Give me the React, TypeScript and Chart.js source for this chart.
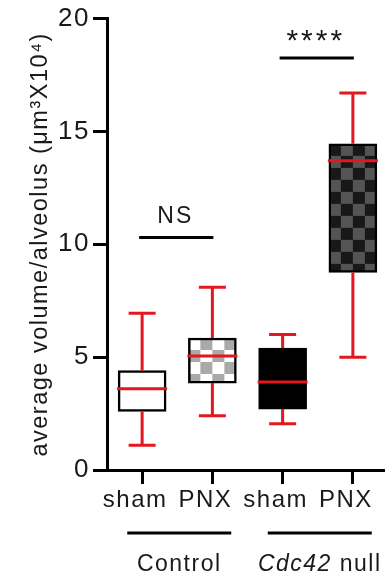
import React, { useEffect, useRef } from "react";
import { Chart, registerables } from "chart.js";

Chart.register(...registerables);

// ---- data ----
const categories = ["sham", "PNX", "sham", "PNX"];
const groupLabels = ["Control", "Cdc42 null"];
const groupMembers = [[0, 1], [2, 3]];
const whiskerMin = [1.1, 2.4, 2.05, 5.0];
const lowerQuartile = [2.6, 3.85, 2.7, 8.75];
const medians = [3.6, 5.05, 3.9, 13.7];
const upperQuartile = [4.4, 5.85, 5.4, 14.45];
const whiskerMax = [6.95, 8.1, 6.0, 16.7];
const yTickValues = [0, 5, 10, 15, 20];
const sigPairs = [[0, 1], [2, 3]];
const sigLabels = ["NS", "****"];
const sigLevels = [10.3, 18.25];
const yTitle = "average volume/alveolus (μm³X10⁴)";

const FONT = "'Liberation Sans', Arial, Helvetica, sans-serif";
const RED = "#e3171d";
const TEXT = "#1a1a1a";

function makeChecker(c1: string, c2: string, size: number): CanvasPattern | string {
  const off = document.createElement("canvas");
  off.width = size * 2;
  off.height = size * 2;
  const g = off.getContext("2d");
  if (!g) return c1;
  g.fillStyle = c1;
  g.fillRect(0, 0, size * 2, size * 2);
  g.fillStyle = c2;
  g.fillRect(0, 0, size, size);
  g.fillRect(size, size, size, size);
  const p = g.createPattern(off, "repeat");
  return p || c1;
}

function setSpacing(ctx: any, v: string) {
  if (ctx && "letterSpacing" in ctx) ctx.letterSpacing = v;
}

export default function App() {
  const ref = useRef<HTMLCanvasElement | null>(null);

  useEffect(() => {
    const canvas = ref.current;
    if (!canvas) return;
    const checkerLight = makeChecker("#a9a9a9", "#ffffff", 12);
    const checkerDark = makeChecker("#545454", "#181818", 12);
    const fills: any[] = ["#ffffff", checkerLight, "#000000", checkerDark];

    const boxPlugin = {
      id: "boxExtras",
      beforeLayout(chart: any) {
        setSpacing(chart.ctx, "1.5px");
      },
      beforeDraw(chart: any) {
        setSpacing(chart.ctx, "1.5px");
      },
      beforeDatasetsDraw(chart: any) {
        const meta = chart.getDatasetMeta(0);
        meta.data.forEach((el: any, i: number) => {
          const f = fills[i];
          if (f && typeof f !== "string" && f.setTransform) {
            const left = el.x - el.width / 2;
            const top = Math.min(el.y, el.base);
            f.setTransform(new DOMMatrix([1, 0, 0, 1, left, top]));
          }
        });
      },
      afterDatasetsDraw(chart: any) {
        const ctx = chart.ctx;
        const xs = chart.scales.x;
        const ys = chart.scales.y;
        const meta = chart.getDatasetMeta(0);
        ctx.save();
        ctx.strokeStyle = RED;
        ctx.lineWidth = 3;
        ctx.lineCap = "butt";
        categories.forEach((_, i) => {
          const x = xs.getPixelForValue(i);
          const el = meta.data[i];
          const half = el ? el.width / 2 + 1 : 25;
          const yMin = ys.getPixelForValue(whiskerMin[i]);
          const yQ1 = ys.getPixelForValue(lowerQuartile[i]);
          const yMed = ys.getPixelForValue(medians[i]);
          const yQ3 = ys.getPixelForValue(upperQuartile[i]);
          const yMax = ys.getPixelForValue(whiskerMax[i]);
          const cap = 13.5;
          ctx.beginPath();
          ctx.moveTo(x, yQ3);
          ctx.lineTo(x, yMax);
          ctx.moveTo(x - cap, yMax);
          ctx.lineTo(x + cap, yMax);
          ctx.moveTo(x, yQ1);
          ctx.lineTo(x, yMin);
          ctx.moveTo(x - cap, yMin);
          ctx.lineTo(x + cap, yMin);
          ctx.moveTo(x - half, yMed);
          ctx.lineTo(x + half, yMed);
          ctx.stroke();
        });
        ctx.restore();
      },
      afterDraw(chart: any) {
        const ctx = chart.ctx;
        const xs = chart.scales.x;
        const ys = chart.scales.y;
        ctx.save();
        // significance brackets
        sigPairs.forEach((pair, k) => {
          const x0 = xs.getPixelForValue(pair[0]);
          const x1 = xs.getPixelForValue(pair[1]);
          const y = ys.getPixelForValue(sigLevels[k]);
          ctx.strokeStyle = "#000";
          ctx.lineWidth = 3;
          ctx.beginPath();
          ctx.moveTo(x0 - 3, y);
          ctx.lineTo(x1 + 1, y);
          ctx.stroke();
          const label = sigLabels[k];
          const stars = /^\*+$/.test(label);
          ctx.fillStyle = TEXT;
          ctx.textAlign = "center";
          ctx.textBaseline = "alphabetic";
          ctx.font = stars ? `30px ${FONT}` : `23px ${FONT}`;
          setSpacing(ctx, stars ? "3px" : "2px");
          ctx.fillText(label, (x0 + x1) / 2 - 2, stars ? y - 8 : y - 15);
        });
        // group lines and labels
        const lineY = chart.chartArea.bottom + 63;
        const labelY = chart.chartArea.bottom + 101;
        setSpacing(ctx, "1.5px");
        groupMembers.forEach((m, g) => {
          const xa = xs.getPixelForValue(m[0]);
          const xb = xs.getPixelForValue(m[m.length - 1]);
          const mid = (xa + xb) / 2 + 2;
          ctx.strokeStyle = "#000";
          ctx.lineWidth = 3;
          ctx.beginPath();
          ctx.moveTo(mid - 52, lineY);
          ctx.lineTo(mid + 52, lineY);
          ctx.stroke();
          const label = groupLabels[g];
          ctx.fillStyle = TEXT;
          ctx.textBaseline = "alphabetic";
          const sp = label.indexOf(" ");
          const isGene = label.startsWith("Cdc42");
          if (isGene && sp > 0) {
            const a = label.slice(0, sp);
            const b = label.slice(sp);
            ctx.font = `italic 23px ${FONT}`;
            const wa = ctx.measureText(a).width;
            ctx.font = `23px ${FONT}`;
            const wb = ctx.measureText(b).width;
            const start = mid - (wa + wb) / 2;
            ctx.textAlign = "left";
            ctx.font = `italic 23px ${FONT}`;
            ctx.fillText(a, start, labelY);
            ctx.font = `23px ${FONT}`;
            ctx.fillText(b, start + wa, labelY);
          } else {
            ctx.textAlign = "center";
            ctx.font = `23px ${FONT}`;
            ctx.fillText(label, mid, labelY);
          }
        });
        ctx.restore();
      },
    };

    const chart = new Chart(canvas, {
      type: "bar",
      data: {
        labels: categories,
        datasets: [
          {
            data: categories.map((_, i) => [lowerQuartile[i], upperQuartile[i]]) as any,
            backgroundColor: fills,
            borderColor: "#000",
            borderWidth: 2.5,
            borderSkipped: false,
            barThickness: 48,
          },
        ],
      },
      options: {
        animation: false,
        responsive: false,
        maintainAspectRatio: false,
        events: [],
        layout: { padding: { left: 0, right: 2, top: 18, bottom: 0 } },
        plugins: {
          legend: { display: false },
          tooltip: { enabled: false },
          title: { display: false },
        },
        scales: {
          x: {
            type: "category",
            offset: true,
            afterFit: (s: any) => {
              s.height = 106;
            },
            grid: {
              offset: false,
              drawOnChartArea: false,
              drawTicks: true,
              tickLength: 14,
              tickWidth: 3,
              tickColor: "#000",
            },
            border: { display: true, color: "#000", width: 3 },
            ticks: {
              color: TEXT,
              font: { family: FONT, size: 24 },
              padding: 2,
              labelOffset: -7,
              maxRotation: 0,
              autoSkip: false,
            },
          },
          y: {
            min: 0,
            max: 20,
            afterFit: (s: any) => {
              s.width = 107;
            },
            afterBuildTicks: (s: any) => {
              s.ticks = yTickValues.map((v) => ({ value: v }));
            },
            grid: {
              drawOnChartArea: false,
              drawTicks: true,
              tickLength: 14,
              tickWidth: 3,
              tickColor: "#000",
            },
            border: { display: true, color: "#000", width: 3 },
            ticks: {
              color: TEXT,
              font: { family: FONT, size: 26 },
              padding: 3,
            },
            title: {
              display: true,
              text: yTitle,
              color: TEXT,
              font: { family: FONT, size: 23.5 },
              padding: { top: 26, bottom: 0 },
            },
          },
        },
      },
      plugins: [boxPlugin],
    });

    return () => chart.destroy();
  }, []);

  return (
    <div
      style={{
        position: "fixed",
        left: 0,
        top: 0,
        width: 385,
        height: 576,
        overflow: "hidden",
        background: "#fff",
      }}
    >
      <canvas ref={ref} width={390} height={576} style={{ width: 390, height: 576, display: "block" }} />
    </div>
  );
}
